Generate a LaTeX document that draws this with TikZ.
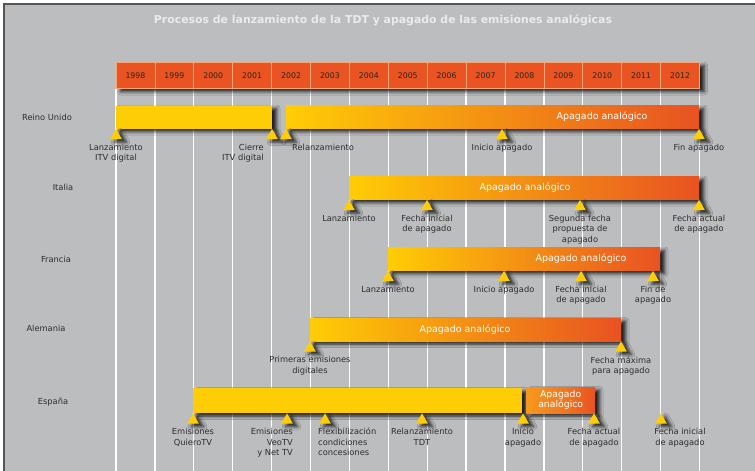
\documentclass[tikz,border=0pt]{standalone}
\usepackage{fontspec}
\setmainfont{DejaVu Sans}
\usetikzlibrary{positioning,shapes.geometric,shadows.blur}

\definecolor{panelgray}{RGB}{188,189,191}
\definecolor{framegray}{RGB}{85,85,85}
\definecolor{yearred}{RGB}{233,84,34}
\definecolor{yearline}{RGB}{247,165,120}
\definecolor{baryellow}{RGB}{255,205,5}
\definecolor{barorange}{RGB}{246,152,30}
\definecolor{barred}{RGB}{232,82,34}
\definecolor{labelgray}{RGB}{45,45,45}

\tikzset{
  darkshadow/.style={blur shadow={shadow xshift=4.5pt, shadow yshift=-3pt,
      shadow blur radius=3.5pt, shadow opacity=85}},
  yearbox/.style={draw=yearline, line width=0.8pt, fill=yearred, minimum width=38.9pt,
      minimum height=26pt, inner sep=0pt, text=black!85, font=\fontsize{7.8}{9}\selectfont},
  flatbar/.style={fill=baryellow, minimum height=23pt, inner sep=0pt, anchor=west, darkshadow},
  fadebar/.style={flatbar, left color=baryellow, middle color=barorange, right color=barred},
  bartext/.style={text=white, font=\fontsize{9.5}{10.5}\selectfont, align=center, inner sep=0pt},
  tri/.style={regular polygon, regular polygon sides=3, fill=baryellow, minimum size=13.5pt,
      inner sep=0pt, anchor=corner 1, darkshadow},
  lbl/.style={text=labelgray, font=\fontsize{8.3}{10.5}\selectfont, align=center, inner sep=1pt},
  country/.style={text=labelgray, font=\fontsize{8.3}{10}\selectfont}
}

\begin{document}
\begin{tikzpicture}[x=1pt, y=-1pt]
  \useasboundingbox (0,0) rectangle (755,471);
  \fill[panelgray] (4,4) rectangle (755,471);
  \draw[framegray, line width=1.6pt] (4,471) -- (4,4) -- (755,4);

  \node[text=white!92!black, font=\bfseries\fontsize{10.9}{12}\selectfont] (title) at (383,20)
    {Procesos de lanzamiento de la TDT y apagado de las emisiones analógicas};

  % year grid
  \foreach \i in {0,...,15}
    \draw[white!92, line width=1.3pt] ({116+38.9*\i},89) -- ({116+38.9*\i},471);
  \node[fill=yearred, minimum width=583.5pt, minimum height=26pt, inner sep=0pt,
        anchor=west, darkshadow] (yearband) at (116,75.5) {};
  \foreach \yr [count=\i from 0] in {1998,...,2012}
    \node[yearbox] (y\yr) at ({135.45+38.9*\i},75.5) {\yr};

  % Reino Unido
  \node[country] (uk) at (47,117) {Reino Unido};
  \node[flatbar, minimum width=156pt] (ukBarA) at (116,117) {};
  \node[fadebar, minimum width=413pt] (ukBarB) at (286,117) {};
  \node[bartext] (ukText) at (602,117) {Apagado analógico};
  \node[tri] (ukM1) at (116,128.5) {};
  \node[tri] (ukM2) at (272,128.5) {};
  \node[tri] (ukM3) at (286,128.5) {};
  \node[tri] (ukM4) at (502,128.5) {};
  \node[tri] (ukM5) at (699,128.5) {};
  \node[lbl, below=3.5pt of ukM1] (ukL1) {Lanzamiento\\ITV digital};
  \node[lbl, align=right, anchor=north east] (ukL2) at (265,142.5) {Cierre\\ITV digital};
  \node[lbl, anchor=north west] (ukL3) at (291,142.5) {Relanzamiento};
  \node[lbl, below=3.5pt of ukM4] (ukL4) {Inicio apagado};
  \node[lbl, below=3.5pt of ukM5] (ukL5) {Fin apagado};

  % Italia
  \node[country] (it) at (63,187) {Italia};
  \node[fadebar, minimum width=350pt] (itBar) at (349,188) {};
  \node[bartext] (itText) at (525,188) {Apagado analógico};
  \node[tri] (itM1) at (349,199.5) {};
  \node[tri] (itM2) at (427,199.5) {};
  \node[tri] (itM3) at (580,199.5) {};
  \node[tri] (itM4) at (699,199.5) {};
  \node[lbl, below=3.5pt of itM1] (itL1) {Lanzamiento};
  \node[lbl, below=3.5pt of itM2] (itL2) {Fecha inicial\\de apagado};
  \node[lbl, below=3.5pt of itM3] (itL3) {Segunda fecha\\propuesta de\\apagado};
  \node[lbl, below=3.5pt of itM4] (itL4) {Fecha actual\\de apagado};

  % Francia
  \node[country] (fr) at (56,259) {Francia};
  \node[fadebar, minimum width=272pt] (frBar) at (388,259) {};
  \node[bartext] (frText) at (581,259) {Apagado analógico};
  \node[tri] (frM1) at (388,270.5) {};
  \node[tri] (frM2) at (504,270.5) {};
  \node[tri] (frM3) at (581,270.5) {};
  \node[tri] (frM4) at (653,270.5) {};
  \node[lbl, below=3.5pt of frM1] (frL1) {Lanzamiento};
  \node[lbl, below=3.5pt of frM2] (frL2) {Inicio apagado};
  \node[lbl, below=3.5pt of frM3] (frL3) {Fecha inicial\\de apagado};
  \node[lbl, below=3.5pt of frM4] (frL4) {Fin de\\apagado};

  % Alemania
  \node[country] (de) at (46,328) {Alemania};
  \node[fadebar, minimum width=311pt] (deBar) at (310,329.5) {};
  \node[bartext] (deText) at (465,329.5) {Apagado analógico};
  \node[tri] (deM1) at (310,341) {};
  \node[tri] (deM2) at (621,341) {};
  \node[lbl, below=3.5pt of deM1] (deL1) {Primeras emisiones\\digitales};
  \node[lbl, below=3.5pt of deM2] (deL2) {Fecha máxima\\para apagado};

  % España
  \node[country] (es) at (53,402) {España};
  \node[flatbar, minimum width=329pt, minimum height=25pt] (esBarA) at (193,400.5) {};
  \node[fadebar, left color=barorange, middle color=barorange!60!barred,
        minimum width=69pt, minimum height=26pt] (esBarB) at (526,400) {};
  \node[bartext, font=\fontsize{9.3}{10}\selectfont] (esText) at (esBarB) {Apagado\\analógico};
  \node[tri] (esM1) at (193,413) {};
  \node[tri] (esM2) at (287,413) {};
  \node[tri] (esM3) at (325,413) {};
  \node[tri] (esM4) at (422,413) {};
  \node[tri] (esM5) at (523,413) {};
  \node[tri] (esM6) at (594,413) {};
  \node[tri] (esM7) at (661,413) {};
  \node[lbl, below=3.5pt of esM1] (esL1) {Emisiones\\QuieroTV};
  \node[lbl, align=right, anchor=north east] (esL2) at (294,427) {Emisiones\\VeoTV\\y Net TV};
  \node[lbl, align=left, anchor=north west] (esL3) at (317,427) {Flexibilización\\condiciones\\concesiones};
  \node[lbl, below=3.5pt of esM4] (esL4) {Relanzamiento\\TDT};
  \node[lbl, below=3.5pt of esM5] (esL5) {Inicio\\apagado};
  \node[lbl, below=3.5pt of esM6] (esL6) {Fecha actual\\de apagado};
  \node[lbl, anchor=north] (esL7) at (680,427) {Fecha inicial\\de apagado};
\end{tikzpicture}
\end{document}
